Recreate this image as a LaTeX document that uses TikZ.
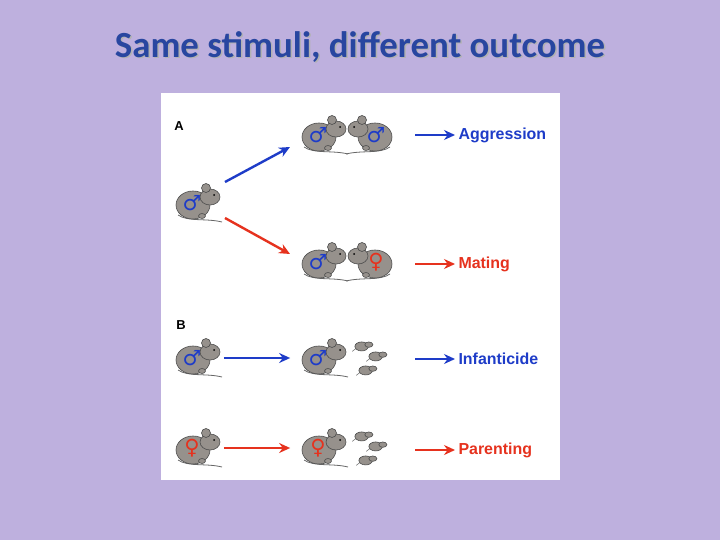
\documentclass[tikz,border=0pt]{standalone}
\usepackage{fontspec}
\setmainfont{Liberation Sans}
\newfontfamily\titlefont{Carlito}
\newfontfamily\symfont{DejaVu Sans}
\usetikzlibrary{arrows.meta}

\definecolor{bgpurple}{RGB}{190,176,222}
\definecolor{titleblue}{RGB}{40,70,160}
\definecolor{malecol}{RGB}{30,60,200}
\definecolor{femcol}{RGB}{230,50,30}
\definecolor{fur}{RGB}{150,145,140}

\tikzset{
  furfill/.style={fill=fur, draw=black!70, line width=0.6pt},
  bluearrow/.style={draw=malecol, line width=2.4pt, -{Stealth[length=11pt,width=10pt]}},
  redarrow/.style={draw=femcol, line width=2.4pt, -{Stealth[length=11pt,width=10pt]}},
  outcome/.style={font=\bfseries\fontsize{16}{18}\selectfont, anchor=west},
  sexsign/.style={font=\symfont\fontsize{21}{21}\selectfont, inner sep=0pt},
}

% mouse drawn at #1, #2 = 1 facing right, -1 facing left
\newcommand{\mouse}[2]{%
  \begin{scope}[shift={#1}, xscale=#2]
    \draw[black!60, line width=0.8pt] (-18,12) .. controls (-8,19) and (10,15) .. (26,19);
    \draw[furfill] (-3,2) ellipse (17 and 14);
    \draw[furfill] (14,-6) ellipse (10 and 8);
    \draw[furfill] (10,-15) circle (4.5);
    \fill[black] (18,-8) circle (1);
    \draw[furfill] (6,13) ellipse (3.5 and 2.5);
  \end{scope}}

\newcommand{\pup}[2]{%
  \begin{scope}[shift={(#1,#2)}, scale=0.45]
    \draw[black!60, line width=0.5pt] (-16,6) -- (-24,12);
    \draw[furfill] (-3,1) ellipse (15 and 10);
    \draw[furfill] (13,-3) ellipse (9 and 6);
  \end{scope}}

\begin{document}
\begin{tikzpicture}[x=1bp, y=-1bp]
  \useasboundingbox (0,0) rectangle (720,540);
  \fill[bgpurple] (0,0) rectangle (720,540);

  % title
  \node (shadow) at (361.5,48.5) {\titlefont\bfseries\fontsize{37}{40}\selectfont\color{black!30}Same stimuli, different outcome};
  \node (title) at (360,47) {\titlefont\bfseries\fontsize{37}{40}\selectfont\color{titleblue}Same stimuli, different outcome};

  % panel
  \fill[white] (161,93) rectangle (560,480);
  \node[font=\bfseries\fontsize{13}{14}\selectfont] (A) at (179,126) {A};
  \node[font=\bfseries\fontsize{13}{14}\selectfont] (B) at (181,325) {B};

  % mice
  \coordinate (m0) at (196,203);
  \coordinate (m1) at (322,135);
  \coordinate (m2) at (372,135);
  \coordinate (m3) at (322,262);
  \coordinate (m4) at (372,262);
  \coordinate (m5) at (196,358);
  \coordinate (m6) at (322,358);
  \coordinate (m7) at (196,448);
  \coordinate (m8) at (322,448);
  \mouse{(m0)}{1}  \mouse{(m1)}{1}  \mouse{(m2)}{-1}
  \mouse{(m3)}{1}  \mouse{(m4)}{-1}
  \mouse{(m5)}{1}  \mouse{(m6)}{1}
  \mouse{(m7)}{1}  \mouse{(m8)}{1}
  \foreach \x/\y in {363/346,377/356,367/370,363/436,377/446,367/460}
    \pup{\x}{\y};

  % sex signs
  \node[sexsign, text=malecol] (s0) at ([xshift=-4]m0) {♂};
  \node[sexsign, text=malecol] (s1) at ([xshift=-4]m1) {♂};
  \node[sexsign, text=malecol] (s2) at ([xshift=4]m2) {♂};
  \node[sexsign, text=malecol] (s3) at ([xshift=-4]m3) {♂};
  \node[sexsign, text=femcol] (s4) at ([xshift=4]m4) {♀};
  \node[sexsign, text=malecol] (s5) at ([xshift=-4]m5) {♂};
  \node[sexsign, text=malecol] (s6) at ([xshift=-4]m6) {♂};
  \node[sexsign, text=femcol] (s7) at ([xshift=-4]m7) {♀};
  \node[sexsign, text=femcol] (s8) at ([xshift=-4]m8) {♀};

  % outcomes
  \node[outcome, text=malecol] (agg) at (455,135) {Aggression};
  \node[outcome, text=femcol] (mat) at (455,264) {Mating};
  \node[outcome, text=malecol] (inf) at (455,359) {Infanticide};
  \node[outcome, text=femcol] (par) at (455,450) {Parenting};

  % arrows
  \draw[bluearrow] ([shift={(29,-21)}]m0) -- ([shift={(-32,12)}]m1);
  \draw[redarrow] ([shift={(29,15)}]m0) -- ([shift={(-32,-8)}]m3);
  \draw[bluearrow] (agg.west -| 415,0) -- (agg.west);
  \draw[redarrow] (mat.west -| 415,0) -- (mat.west);
  \draw[bluearrow] ([xshift=28]m5) -- ([xshift=-32]m6);
  \draw[redarrow] ([xshift=28]m7) -- ([xshift=-32]m8);
  \draw[bluearrow] (inf.west -| 415,0) -- (inf.west);
  \draw[redarrow] (par.west -| 415,0) -- (par.west);
\end{tikzpicture}
\end{document}
